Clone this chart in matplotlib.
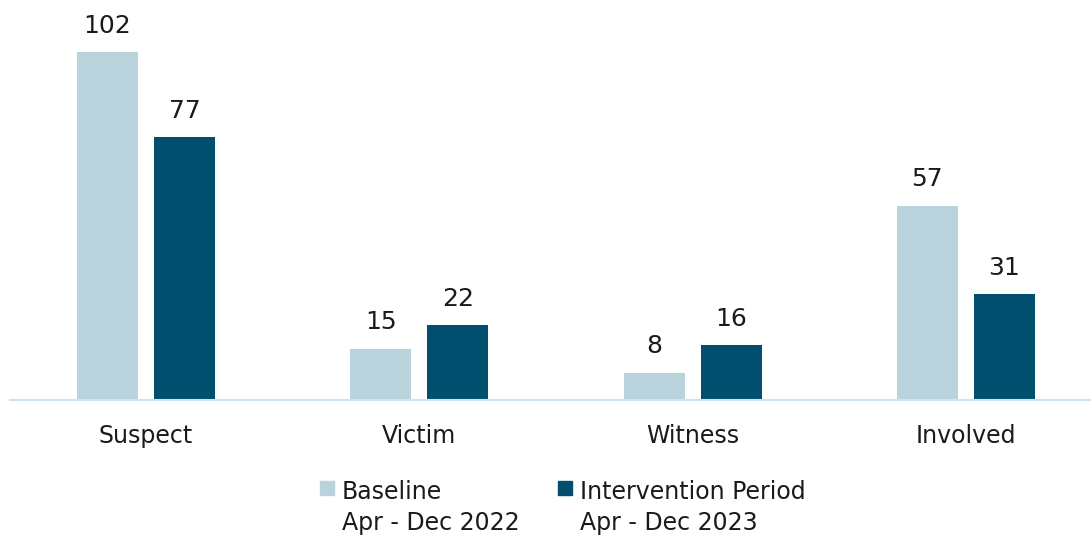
import matplotlib.pyplot as plt
import matplotlib.patches as mpatches
import numpy as np

# data
categories = ['Suspect', 'Victim', 'Witness', 'Involved']
baseline = [102, 15, 8, 57]
intervention = [77, 22, 16, 31]
series_names = ['Baseline', 'Intervention Period']
series_periods = ['Apr - Dec 2022', 'Apr - Dec 2023']

light = '#B9D3DC'
dark = '#004F6E'
txt = '#1a1a1a'

plt.rcParams['font.family'] = ['DejaVu Sans']

fig = plt.figure(figsize=(10.91, 5.35), dpi=100)
ax = fig.add_axes([10 / 1091, 135 / 535, 1 - 10 / 1091, 400 / 535])

x = np.arange(len(categories))
w = 0.223
off = 0.141
b1 = ax.bar(x - off, baseline, w, color=light)
b2 = ax.bar(x + off, intervention, w, color=dark)

for bars in (b1, b2):
    for r in bars:
        ax.annotate(f'{int(r.get_height())}',
                    xy=(r.get_x() + r.get_width() / 2, r.get_height()),
                    xytext=(0, 14), textcoords='offset points',
                    ha='center', va='baseline', fontsize=18, color=txt)

ax.set_xlim(-0.498, 3.458)
ax.set_ylim(0, 117.3)
ax.set_xticks(x)
ax.set_xticklabels(categories, fontsize=17, color=txt)
ax.tick_params(axis='x', length=0, pad=17)
ax.set_yticks([])
for s in ['top', 'right', 'left']:
    ax.spines[s].set_visible(False)
ax.spines['bottom'].set_color('#CBE6F3')
ax.spines['bottom'].set_linewidth(1.5)

# legend drawn by hand so the swatch sits beside the first line
W, H = 1091, 535
for sx, tx, col, name, period in [(320, 342, light, series_names[0], series_periods[0]),
                                  (558, 580, dark, series_names[1], series_periods[1])]:
    fig.add_artist(mpatches.Rectangle((sx / W, 1 - 495 / H), 14 / W, 14 / H,
                                      transform=fig.transFigure, color=col))
    fig.text(tx / W, 1 - 499 / H, name, fontsize=17, color=txt, va='baseline')
    fig.text(tx / W, 1 - 530 / H, period, fontsize=17, color=txt, va='baseline')

fig.savefig('out.png', dpi=100)
